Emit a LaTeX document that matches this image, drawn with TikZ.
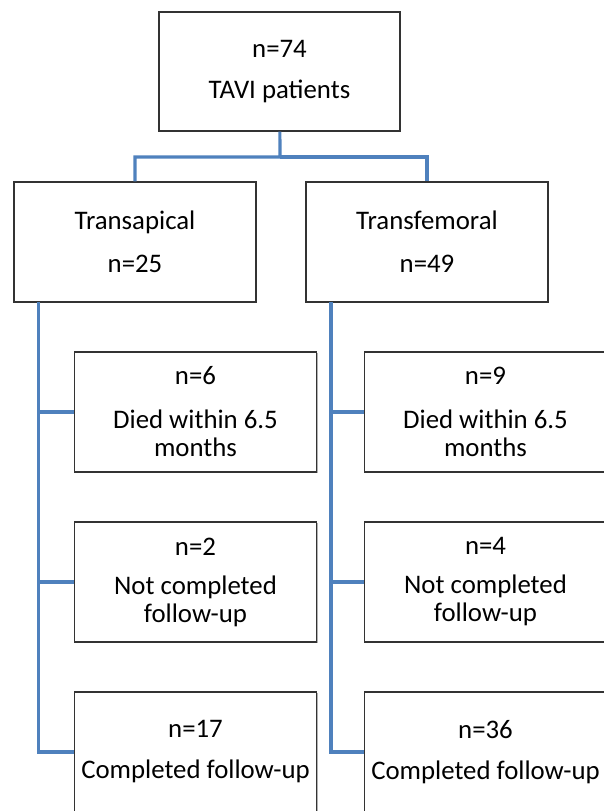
\documentclass[tikz,border=0pt]{standalone}
\usepackage{fontspec}
\setmainfont{Carlito}
\usetikzlibrary{shadows}

\begin{document}
\begin{tikzpicture}[x=1pt, y=-1pt,
    % Colors
    cline/.style={draw={rgb,255:red,79;green,129;blue,189}},
    % Styles
    group/.style={draw=black!80, line width=1.3pt, fill=white, minimum width=242pt, minimum height=120pt,
                  font=\fontsize{26.8}{28}\selectfont, align=center,
                  drop shadow={shadow xshift=1.3pt, shadow yshift=-1.3pt, fill=black, opacity=0.3}},
    link/.style={cline, line width=3.2pt},
  ]

  \useasboundingbox (0,0) rectangle (603,811);

  % Cohort
  \node[group, minimum width=241pt, minimum height=119pt] (total) at (279.5, 71.5) {
    n=74\\[13pt]
    TAVI patients
  };

  % Access routes
  \node[group] (apical) at (135, 242) {
    Transapical\\[15pt]
    n=25
  };
  \node[group] (femoral) at (427, 242) {
    Transfemoral\\[15pt]
    n=49
  };

  % Transapical outcomes
  \node[group] (diedA) at (195.5, 412) {
    n=6\\[16pt]
    Died within 6.5\\
    months
  };
  \node[group] (lostA) at (195.5, 582) {
    n=2\\[11pt]
    Not completed\\
    follow-up
  };
  \node[group] (doneA) at (195.5, 752) {
    n=17\\[13pt]
    Completed follow-up
  };

  % Transfemoral outcomes
  \node[group] (diedB) at (485.5, 412) {
    n=9\\[16pt]
    Died within 6.5\\
    months
  };
  \node[group] (lostB) at (485.5, 582) {
    n=4\\[11pt]
    Not completed\\
    follow-up
  };
  \node[group] (doneB) at (485.5, 752) {
    n=36\\[13pt]
    Completed follow-up
  };

  % Connectors
  \coordinate (split) at (280, 157);
  \coordinate (trunkA) at (38.5, 302);
  \coordinate (trunkB) at (331, 302);
  \draw[link] (total) -- (split) -| (apical);
  \draw[link] (split) -| (femoral);
  \draw[link] (trunkA) |- (diedA);
  \draw[link] (trunkA) |- (lostA);
  \draw[link] (trunkA) |- (doneA);
  \draw[link] (trunkB) |- (diedB);
  \draw[link] (trunkB) |- (lostB);
  \draw[link] (trunkB) |- (doneB);

\end{tikzpicture}
\end{document}
